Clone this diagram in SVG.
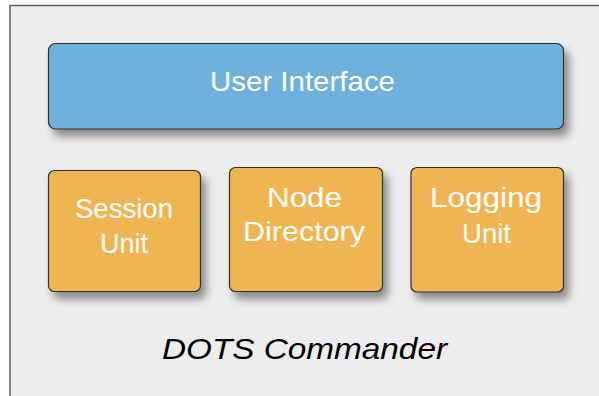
<svg xmlns="http://www.w3.org/2000/svg" width="599" height="396" viewBox="0 0 599 396">
<style>
.box{stroke:#2f2f2f;stroke-width:1.2;filter:url(#sh)}
.ui{fill:#6eb1dc}
.comp{fill:#f0b552}
.lbl{font-family:"Liberation Sans",Arial,sans-serif;font-size:28px;fill:#ffffff;text-anchor:middle}
.title{font-family:"Liberation Sans",Arial,sans-serif;font-size:30px;font-style:italic;fill:#000000;text-anchor:middle}
</style>
<defs>
<filter id="sh" x="-10%" y="-10%" width="130%" height="150%">
<feDropShadow dx="5" dy="7" stdDeviation="4" flood-color="#000" flood-opacity="0.42"/>
</filter>
</defs>
<rect x="0" y="0" width="599" height="396" fill="#ffffff"/>
<rect id="container" x="10" y="5.5" width="600" height="400" fill="#ededed" stroke="#555555" stroke-width="1.4"/>
<g id="connectors"></g>
<g id="user-interface">
<rect class="box ui" x="48.5" y="43.5" width="515" height="85.5" rx="7"/>
<text class="lbl" x="302.5" y="91" textLength="185" lengthAdjust="spacingAndGlyphs">User Interface</text>
</g>
<g id="session-unit">
<rect class="box comp" x="48.5" y="170.5" width="152" height="121" rx="6"/>
<text class="lbl" x="124" y="217.5" textLength="98" lengthAdjust="spacingAndGlyphs">Session</text>
<text class="lbl" x="124" y="252.5" textLength="48" lengthAdjust="spacingAndGlyphs">Unit</text>
</g>
<g id="node-directory">
<rect class="box comp" x="229.5" y="167.5" width="153" height="124" rx="6"/>
<text class="lbl" x="304.5" y="207" textLength="75" lengthAdjust="spacingAndGlyphs">Node</text>
<text class="lbl" x="304" y="241" textLength="122" lengthAdjust="spacingAndGlyphs">Directory</text>
</g>
<g id="logging-unit">
<rect class="box comp" x="411" y="167.5" width="152.5" height="124.5" rx="6"/>
<text class="lbl" x="486" y="207" textLength="112" lengthAdjust="spacingAndGlyphs">Logging</text>
<text class="lbl" x="486.5" y="242.5" textLength="49" lengthAdjust="spacingAndGlyphs">Unit</text>
</g>
<g id="caption">
<text class="title" x="304.5" y="359" textLength="285" lengthAdjust="spacingAndGlyphs">DOTS Commander</text>
</g>
</svg>
